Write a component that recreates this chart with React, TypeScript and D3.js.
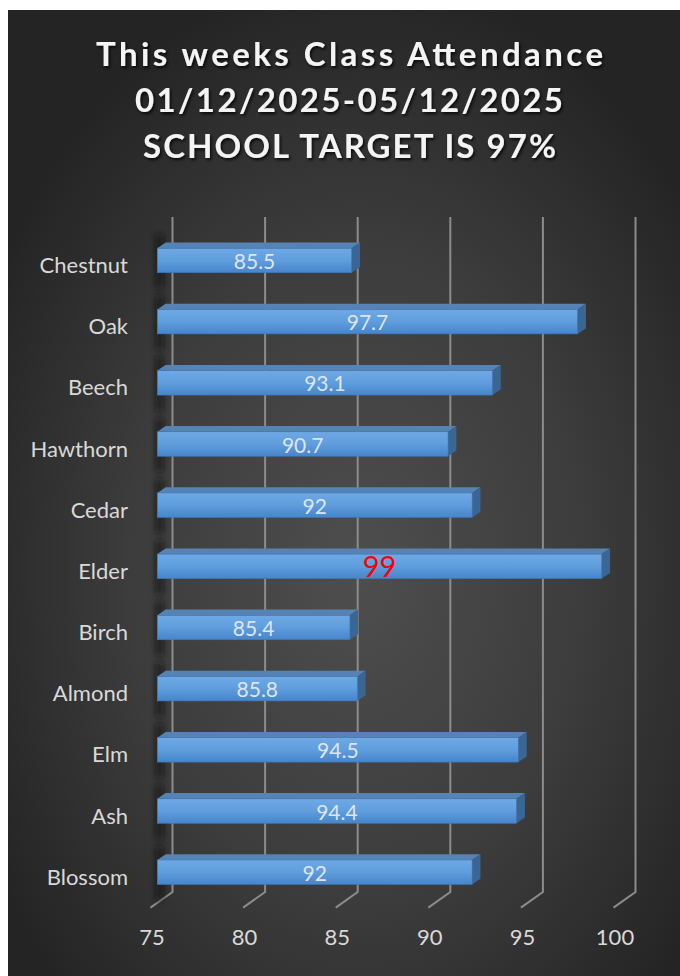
import React from "react";
import * as d3 from "d3";

const categories = ["Chestnut", "Oak", "Beech", "Hawthorn", "Cedar", "Elder", "Birch", "Almond", "Elm", "Ash", "Blossom"];
const values = [85.5, 97.7, 93.1, 90.7, 92, 99, 85.4, 85.8, 94.5, 94.4, 92];
const tickValues = [75, 80, 85, 90, 95, 100];
const titleLines = ["This weeks Class Attendance", "01/12/2025-05/12/2025", "SCHOOL TARGET IS 97%"];
const highlight = "Elder";

const W = 680;
const H = 976;

export default function App() {
  const x = d3.scaleLinear().domain([75, 100]).range([157.3, 620.3]);
  const y = d3.scaleBand<string>().domain(categories).range([229.9, 902.8]).paddingInner(0.6).paddingOuter(0.3);
  const bh = y.bandwidth();
  const dx = 8.3, dy = -5.7; // bar depth
  const backDx = 15.2; // back wall offset from bar front
  const frontDx = -6.8, gridTop = 217, gridBottom = 892, floorDy = 15.6;
  const font = "Lato, 'Open Sans', sans-serif";

  const titleX = [96, 135, 143];
  const titleW = [507, 428, 413];
  const titleY = [66, 111.7, 158];

  return (
    <svg width={W} height={H} style={{ position: "absolute", left: 0, top: 0 }}>
      <defs>
        <radialGradient id="bg" cx="52%" cy="58%" r="62%">
          <stop offset="0%" stopColor="#4e4e4e" />
          <stop offset="55%" stopColor="#3c3c3c" />
          <stop offset="100%" stopColor="#242424" />
        </radialGradient>
        <linearGradient id="face" x1="0" y1="0" x2="0" y2="1">
          <stop offset="0%" stopColor="#6ea9e4" />
          <stop offset="50%" stopColor="#5f9ddd" />
          <stop offset="100%" stopColor="#4785cc" />
        </linearGradient>
        <filter id="tshadow" x="-10%" y="-30%" width="120%" height="160%">
          <feDropShadow dx="1.5" dy="2" stdDeviation="1.5" floodColor="#000" floodOpacity="0.8" />
        </filter>
        <filter id="blur" x="-300%" y="-50%" width="700%" height="200%">
          <feGaussianBlur stdDeviation="3" />
        </filter>
      </defs>
      <rect x={0} y={0} width={W} height={H} fill="#ffffff" />
      <rect x={8} y={10} width={W - 8} height={H - 10} fill="url(#bg)" />

      {titleLines.map((t, i) => (
        <text
          key={t}
          x={titleX[i]}
          y={titleY[i]}
          textLength={titleW[i]}
          lengthAdjust="spacing"
          fill="#f4f4f4"
          fontFamily={font}
          fontWeight="bold"
          fontSize={33}
          filter="url(#tshadow)"
        >
          {t}
        </text>
      ))}

      {/* grid lines: back wall vertical + floor diagonal */}
      {tickValues.map((v) => {
        const xb = x(v) + backDx;
        const xf = x(v) + frontDx;
        return (
          <g key={v}>
            <path
              d={`M${xb},${gridTop}L${xb},${gridBottom}L${xf},${gridBottom + floorDy}`}
              fill="none"
              stroke="#8c8c8c"
              strokeWidth={2}
            />
            <text x={xf + 1.5} y={945} textAnchor="middle" fill="#d9d9d9" fontFamily={font} fontSize={22}>
              {v}
            </text>
          </g>
        );
      })}

      {/* left wall shadows */}
      {categories.map((c) => {
        const y0 = y(c)!;
        return (
          <rect key={c} x={156} y={y0 - 14} width={7} height={bh + 30} fill="#0d0d0d" opacity={0.7} filter="url(#blur)" />
        );
      })}

      {/* bars */}
      {categories.map((c, i) => {
        const y0 = y(c)!;
        const x0 = x(75);
        const x1 = x(values[i]);
        const top = `M${x0},${y0}L${x0 + dx},${y0 + dy}L${x1 + dx},${y0 + dy}L${x1},${y0}Z`;
        const side = `M${x1},${y0}L${x1 + dx},${y0 + dy}L${x1 + dx},${y0 + dy + bh}L${x1},${y0 + bh}Z`;
        const isHi = c === highlight;
        return (
          <g key={c}>
            <path d={top} fill="#5683b3" />
            <path d={side} fill="#396695" />
            <rect x={x0} y={y0} width={x1 - x0} height={bh} fill="url(#face)" stroke="#3f78b8" strokeWidth={0.6} />
            <text
              x={(x0 + x1) / 2}
              y={y0 + bh / 2 + (isHi ? 11 : 8.5)}
              textAnchor="middle"
              fill={isHi ? "#ff0000" : "#dfe5ee"}
              fontFamily={font}
              fontSize={isHi ? 29 : 21}
            >
              {values[i]}
            </text>
            <text x={128} y={y0 + bh / 2 + 12.5} textAnchor="end" fill="#d9d9d9" fontFamily={font} fontSize={22}>
              {c}
            </text>
          </g>
        );
      })}
    </svg>
  );
}
